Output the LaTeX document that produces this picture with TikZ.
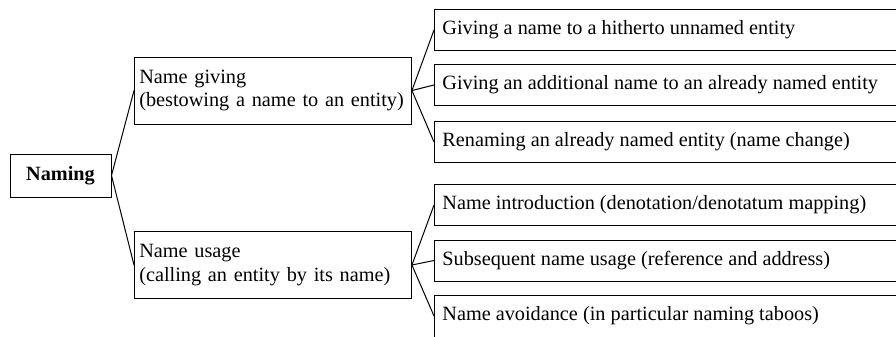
\documentclass[tikz,border=0pt]{standalone}
\usepackage{fontspec}
\setmainfont{Liberation Serif}

\tikzset{every picture/.style={line width=0.75pt}}
\tikzset{
	rootbox/.style={draw, minimum width=75.75pt, minimum height=32.25pt, inner sep=0pt, font=\bfseries},
	midbox/.style={draw, anchor=west, minimum height=50.25pt, text width=200.5pt, inner xsep=3.6pt, align=left},
	leafbox/.style={anchor=west, minimum height=30pt, inner xsep=5.9pt},
}

\begin{document}
\begin{tikzpicture}[x=0.75pt,y=0.75pt,yscale=-1,xscale=1]
	\fontsize{15.2}{17.4}\selectfont
	\useasboundingbox (0,0) rectangle (896,336);
	\coordinate (rim) at (896,0);

	% Root
	\node[rootbox] (naming) at (60.5,175.5) {Naming};

	% Middle boxes
	\node[midbox] (giving) at (134,90.5) {Name giving\\(bestowing a name to an entity)};
	\node[midbox] (usage) at (134,265) {Name usage\\(calling an entity by its name)};

	% Leaf boxes (cut off at the right rim)
	\node[leafbox] (g1) at (434,30) {Giving a name to a hitherto unnamed entity};
	\node[leafbox] (g2) at (434,85) {Giving an additional name to an already named entity};
	\node[leafbox] (g3) at (434,142) {Renaming an already named entity (name change)};
	\node[leafbox] (u1) at (434,205) {Name introduction (denotation/denotatum mapping)};
	\node[leafbox] (u2) at (434,260.5) {Subsequent name usage (reference and address)};
	\node[leafbox] (u3) at (434,316) {Name avoidance (in particular naming taboos)};
	\foreach \leaf in {g1,g2,g3,u1,u2}
		\draw (rim |- \leaf.north) -- (\leaf.north west) -- (\leaf.south west) -- (rim |- \leaf.south);
	\draw (rim |- u3.north) -- (u3.north west) -- (u3.south west);

	% Connectors
	\draw (naming.east) -- (giving.west);
	\draw (naming.east) -- (usage.west);
	\foreach \leaf in {g1,g2,g3}
		\draw (giving.east) -- (\leaf.west);
	\foreach \leaf in {u1,u2,u3}
		\draw (usage.east) -- (\leaf.west);

\end{tikzpicture}
\end{document}
